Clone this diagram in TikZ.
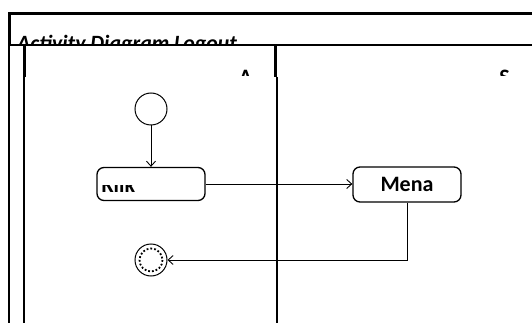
\documentclass[tikz,border=0pt]{standalone}
\usepackage{fontspec}
\setmainfont{Carlito}
\usetikzlibrary{arrows.meta}
\tikzset{>={Straight Barb[length=5pt,width=9pt]}}
\tikzset{
  act/.style = {draw, line width=1.3pt, rounded corners=7pt, minimum width=108pt, minimum height=33pt, inner sep=0pt},
  flow/.style = {->, line width=0.9pt},
  lbl/.style = {font=\fontsize{22}{22}\selectfont\bfseries, inner sep=0pt},
  lane/.style = {line width=1.3pt}
}

\begin{document}
\begin{tikzpicture}[x=1pt, y=-1pt]
\useasboundingbox (0,0) rectangle (532,323);
% frame
\draw[line width=3pt] (9,45) -- (9,14) -- (532,14);
\draw[lane] (9,45) -- (9,323);
\draw[line width=2pt] (9,45) -- (532,45);
\draw[line width=3pt] (24,45) -- (24,77);
\draw[lane] (24,77) -- (24,323);
\draw[line width=3pt] (275.5,45) -- (275.5,77);
\draw[lane] (277,77) -- (277,323);
% clipped texts
\begin{scope}
\clip (10,16) rectangle (532,44);
\node[lbl, font=\fontsize{21.8}{22}\selectfont\bfseries\itshape, anchor=base west] (title) at (17,50.5) {Activity Diagram Logout};
\end{scope}
\begin{scope}
\clip (25,46) rectangle (532,75.5);
\node[lbl, anchor=north] (laneA) at (245.5,70) {A};
\node[lbl, anchor=north] (laneS) at (504.5,70) {S};
\end{scope}
% nodes
\node[circle, draw, line width=1pt, minimum size=32pt, inner sep=0pt] (start) at (151,109) {};
\node[act] (klik) at (151,184) {};
\begin{scope}
\clip (98,185.5) rectangle (204,199);
\node[lbl, anchor=base west] (kliktext) at (101.5,192.5) {Klik};
\end{scope}
\node[act, lbl, minimum height=35pt] (mena) at (407,184.5) {Mena};
\node[circle, draw, line width=1pt, minimum size=32pt, inner sep=0pt] (stop) at (151,260) {};
\draw[dotted, line width=1.8pt] (stop.center) circle (11.5);
% flows
\draw[flow] (start) -- (klik);
\draw[flow] (klik.east) -- (klik.east -| mena.west);
\draw[flow] (mena.south) |- (stop);
\end{tikzpicture}
\end{document}
